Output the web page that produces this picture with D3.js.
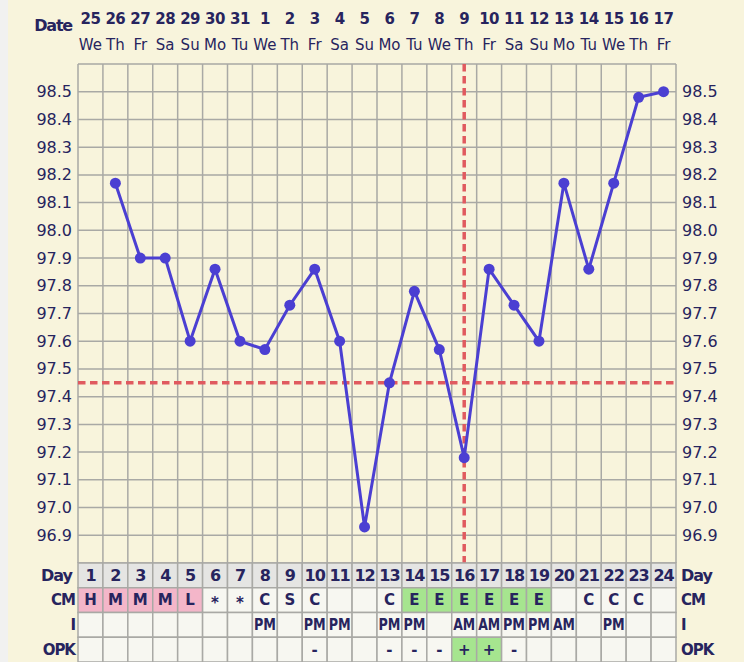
<!DOCTYPE html>
<html>
<head>
<meta charset="utf-8">
<script src="https://cdn.jsdelivr.net/npm/d3@7"></script>
<style>
    body { margin: 0; background: #f8f4dc; }
    #chart { width: 744px; height: 662px; }
    text { font-family: 'DejaVu Sans', Verdana, sans-serif; fill: #27245e; }
</style>
</head>
<body>
<div id="chart"></div>
<script>
//Datos del gráfico
const days = d3.range(1, 25);
const dates = ['25','26','27','28','29','30','31','1','2','3','4','5','6','7','8','9','10','11','12','13','14','15','16','17'];
const weekdays = ['We','Th','Fr','Sa','Su','Mo','Tu','We','Th','Fr','Sa','Su','Mo','Tu','We','Th','Fr','Sa','Su','Mo','Tu','We','Th','Fr'];
const temps = [null, 98.17, 97.90, 97.90, 97.60, 97.86, 97.60, 97.57, 97.73, 97.86, 97.60, 96.93, 97.45, 97.78, 97.57, 97.18, 97.86, 97.73, 97.60, 98.17, 97.86, 98.17, 98.48, 98.50];
const cm = ['H','M','M','M','L','*','*','C','S','C','','','C','E','E','E','E','E','E','','C','C','C',''];
const intercourse = ['','','','','','','','PM','','PM','PM','','PM','PM','','AM','AM','PM','PM','AM','','PM','',''];
const opk = ['','','','','','','','','','-','','','-','-','-','+','+','-','','','','','',''];
const yTicks = [96.9, 97.0, 97.1, 97.2, 97.3, 97.4, 97.5, 97.6, 97.7, 97.8, 97.9, 98.0, 98.1, 98.2, 98.3, 98.4, 98.5];
const coverline = 97.45;
const ovulationDay = 16;
const rows = ['Day', 'CM', 'I', 'OPK'];

//Colores fijos
const COLOR_TEXT = '#27245e',
COLOR_GRID = '#a9a9a5',
COLOR_LINE = '#4b3fd2',
COLOR_DASH = '#e05a5f',
COLOR_PINK = '#f4b6c9',
COLOR_GREEN = '#a6e58f',
COLOR_CELL = '#f7f7f1',
COLOR_DAYROW = '#e5e5e3';

let width = 744, height = 662;

let svg = d3.select('#chart')
    .append('svg')
        .attr('width', width)
        .attr('height', height);

//Franja gris a la izquierda
svg.append('rect').attr('x', 0).attr('y', 0).attr('width', 8).attr('height', height).attr('fill', '#f1f1f0');

let x = d3.scaleBand()
    .domain(days)
    .range([78, 676]);

let y = d3.scaleLinear()
    .domain([96.8, 98.6])
    .range([563, 64]);

let rowY = d3.scaleBand()
    .domain(rows)
    .range([563, 662]);

let cx = function(d) { return x(d) + x.bandwidth() / 2; };

///Cabecera de fechas
svg.append('text')
    .attr('x', 72).attr('y', 25)
    .attr('text-anchor', 'end')
    .attr('dominant-baseline', 'central')
    .style('font-size', '16px').style('font-weight', 'bold')
    .style('letter-spacing', '-1.2px')
    .text('Date');

svg.append('g')
    .selectAll('text')
    .data(days)
    .enter()
    .append('text')
    .attr('x', cx).attr('y', 19)
    .attr('text-anchor', 'middle')
    .attr('dominant-baseline', 'central')
    .style('font-size', '15px').style('font-weight', 'bold')
    .style('letter-spacing', '-0.5px')
    .text(function(d, i) { return dates[i]; });

svg.append('g')
    .selectAll('text')
    .data(days)
    .enter()
    .append('text')
    .attr('x', cx).attr('y', 45)
    .attr('text-anchor', 'middle')
    .attr('dominant-baseline', 'central')
    .style('font-size', '15px')
    .text(function(d, i) { return weekdays[i]; });

///Rejilla
let grid = svg.append('g')
    .attr('stroke', COLOR_GRID)
    .attr('stroke-width', 1.5);

grid.selectAll('.h')
    .data(d3.range(0, 19).map(function(i) { return 96.8 + i * 0.1; }))
    .enter()
    .append('line')
    .attr('x1', 78).attr('x2', 676)
    .attr('y1', function(d) { return y(d); })
    .attr('y2', function(d) { return y(d); });

grid.selectAll('.v')
    .data(days.concat([25]))
    .enter()
    .append('line')
    .attr('x1', function(d) { return d == 25 ? 676 : x(d); })
    .attr('x2', function(d) { return d == 25 ? 676 : x(d); })
    .attr('y1', 64).attr('y2', 563);

///Ejes izquierdo y derecho
svg.append('g')
    .selectAll('text')
    .data(yTicks)
    .enter()
    .append('text')
    .attr('x', 72)
    .attr('y', function(d) { return y(d); })
    .attr('text-anchor', 'end')
    .attr('dominant-baseline', 'central')
    .style('font-size', '16px')
    .text(function(d) { return d.toFixed(1); });

svg.append('g')
    .selectAll('text')
    .data(yTicks)
    .enter()
    .append('text')
    .attr('x', 682)
    .attr('y', function(d) { return y(d); })
    .attr('dominant-baseline', 'central')
    .style('font-size', '16px')
    .text(function(d) { return d.toFixed(1); });

///Líneas de referencia (coverline y ovulación)
svg.append('line')
    .attr('x1', 78).attr('x2', 676)
    .attr('y1', y(coverline)).attr('y2', y(coverline))
    .attr('stroke', COLOR_DASH).attr('stroke-width', 3.5)
    .attr('stroke-dasharray', '7.5,4.5');

svg.append('line')
    .attr('x1', cx(ovulationDay)).attr('x2', cx(ovulationDay))
    .attr('y1', 64).attr('y2', 563)
    .attr('stroke', COLOR_DASH).attr('stroke-width', 3.5)
    .attr('stroke-dasharray', '7.5,4.5');

///Línea de temperaturas
let points = days.map(function(d, i) { return {day: d, temp: temps[i]}; })
    .filter(function(d) { return d.temp != null; });

svg.append('path')
    .datum(points)
    .attr('fill', 'none')
    .attr('stroke', COLOR_LINE)
    .attr('stroke-width', 3)
    .attr('d', d3.line()
        .x(function(d) { return cx(d.day); })
        .y(function(d) { return y(d.temp); }));

svg.append('g')
    .selectAll('circle')
    .data(points)
    .enter()
    .append('circle')
    .attr('cx', function(d) { return cx(d.day); })
    .attr('cy', function(d) { return y(d.temp); })
    .attr('r', 5.5)
    .attr('fill', COLOR_LINE);

///Tabla inferior
let cellColor = function(row, i) {
    if (row == 'Day') return COLOR_DAYROW;
    if (row == 'CM') {
        if (['H','M','L'].indexOf(cm[i]) >= 0) return COLOR_PINK;
        if (cm[i] == 'E') return COLOR_GREEN;
    }
    if (row == 'OPK' && opk[i] == '+') return COLOR_GREEN;
    return COLOR_CELL;
};

let cellText = function(row, i) {
    if (row == 'Day') return days[i];
    if (row == 'CM') return cm[i];
    if (row == 'I') return intercourse[i];
    return opk[i];
};

let cells = [];
rows.forEach(function(r) {
    days.forEach(function(d, i) { cells.push({row: r, day: d, i: i}); });
});

svg.append('g')
    .selectAll('rect')
    .data(cells)
    .enter()
    .append('rect')
    .attr('x', function(d) { return x(d.day); })
    .attr('y', function(d) { return rowY(d.row); })
    .attr('width', x.bandwidth())
    .attr('height', rowY.bandwidth())
    .attr('fill', function(d) { return cellColor(d.row, d.i); })
    .attr('stroke', COLOR_GRID)
    .attr('stroke-width', 1.5);

let cellLabels = svg.append('g')
    .selectAll('text')
    .data(cells.filter(function(d) { return cellText(d.row, d.i) !== ''; }))
    .enter()
    .append('text')
    .attr('x', function(d) { return cx(d.day); })
    .attr('y', function(d) { return rowY(d.row) + rowY.bandwidth() / 2 + (d.row == 'CM' && cm[d.i] == '*' ? 3 : 0); })
    .attr('text-anchor', 'middle')
    .attr('dominant-baseline', 'central')
    .style('font-weight', 'bold')
    .style('font-size', function(d) { return d.row == 'Day' ? '16px' : '15px'; })
    .style('letter-spacing', function(d) { return d.row == 'Day' ? '-1px' : '0px'; })
    .text(function(d) { return cellText(d.row, d.i); });

//AM / PM más estrechos, como en el original
cellLabels.filter(function(d) { return d.row == 'I'; })
    .attr('textLength', 22)
    .attr('lengthAdjust', 'spacingAndGlyphs');

//Etiquetas de filas
svg.append('g')
    .selectAll('text')
    .data(rows)
    .enter()
    .append('text')
    .attr('x', function(d) { return d == 'Day' ? 72 : 75; })
    .attr('y', function(d) { return rowY(d) + rowY.bandwidth() / 2; })
    .attr('text-anchor', 'end')
    .attr('dominant-baseline', 'central')
    .style('font-size', function(d) { return d == 'Day' ? '16px' : '15px'; })
    .style('font-weight', 'bold')
    .style('letter-spacing', '-1px')
    .text(function(d) { return d; });

svg.append('g')
    .selectAll('text')
    .data(rows)
    .enter()
    .append('text')
    .attr('x', 681)
    .attr('y', function(d) { return rowY(d) + rowY.bandwidth() / 2; })
    .attr('dominant-baseline', 'central')
    .style('font-size', function(d) { return d == 'Day' ? '16px' : '15px'; })
    .style('font-weight', 'bold')
    .style('letter-spacing', '-1px')
    .text(function(d) { return d; });
</script>
</body>
</html>
